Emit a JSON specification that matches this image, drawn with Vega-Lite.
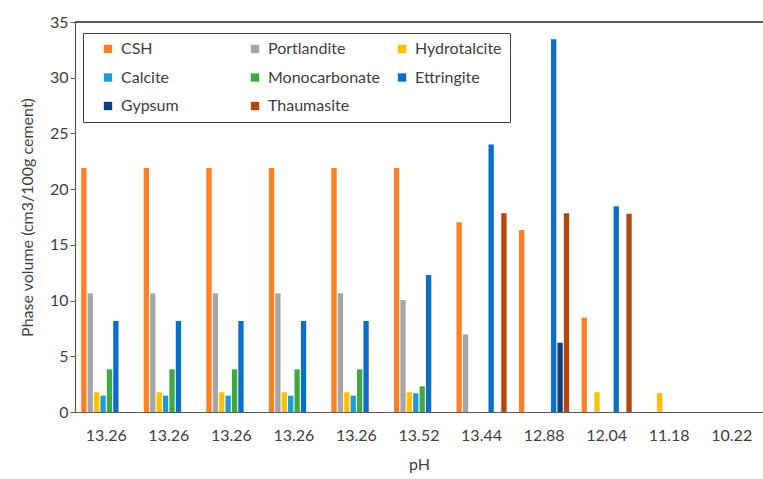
{
  "$schema": "https://vega.github.io/schema/vega-lite/v6.json",
  "width": 688,
  "height": 390,
  "autosize": "none",
  "padding": {"left": 75, "top": 22, "right": 0, "bottom": 67},
  "background": "white",
  "config": {
    "view": {"stroke": null},
    "font": "Lato",
    "axis": {"labelFont": "Lato", "titleFont": "Lato", "labelColor": "#404040", "titleColor": "#404040", "titleFontWeight": "normal", "domainColor": "#595959", "tickColor": "#595959", "grid": false}
  },
  "data": {
    "values": [
      {"s": 1, "phase": "CSH", "v": 21.9}, {"s": 1, "phase": "Portlandite", "v": 10.65}, {"s": 1, "phase": "Hydrotalcite", "v": 1.77}, {"s": 1, "phase": "Calcite", "v": 1.47}, {"s": 1, "phase": "Monocarbonate", "v": 3.83}, {"s": 1, "phase": "Ettringite", "v": 8.17},
      {"s": 2, "phase": "CSH", "v": 21.9}, {"s": 2, "phase": "Portlandite", "v": 10.65}, {"s": 2, "phase": "Hydrotalcite", "v": 1.77}, {"s": 2, "phase": "Calcite", "v": 1.47}, {"s": 2, "phase": "Monocarbonate", "v": 3.83}, {"s": 2, "phase": "Ettringite", "v": 8.17},
      {"s": 3, "phase": "CSH", "v": 21.9}, {"s": 3, "phase": "Portlandite", "v": 10.65}, {"s": 3, "phase": "Hydrotalcite", "v": 1.77}, {"s": 3, "phase": "Calcite", "v": 1.47}, {"s": 3, "phase": "Monocarbonate", "v": 3.83}, {"s": 3, "phase": "Ettringite", "v": 8.17},
      {"s": 4, "phase": "CSH", "v": 21.9}, {"s": 4, "phase": "Portlandite", "v": 10.65}, {"s": 4, "phase": "Hydrotalcite", "v": 1.77}, {"s": 4, "phase": "Calcite", "v": 1.47}, {"s": 4, "phase": "Monocarbonate", "v": 3.83}, {"s": 4, "phase": "Ettringite", "v": 8.17},
      {"s": 5, "phase": "CSH", "v": 21.9}, {"s": 5, "phase": "Portlandite", "v": 10.65}, {"s": 5, "phase": "Hydrotalcite", "v": 1.77}, {"s": 5, "phase": "Calcite", "v": 1.47}, {"s": 5, "phase": "Monocarbonate", "v": 3.83}, {"s": 5, "phase": "Ettringite", "v": 8.17},
      {"s": 6, "phase": "CSH", "v": 21.9}, {"s": 6, "phase": "Portlandite", "v": 10.05}, {"s": 6, "phase": "Hydrotalcite", "v": 1.77}, {"s": 6, "phase": "Calcite", "v": 1.68}, {"s": 6, "phase": "Monocarbonate", "v": 2.3}, {"s": 6, "phase": "Ettringite", "v": 12.3},
      {"s": 7, "phase": "CSH", "v": 17.03}, {"s": 7, "phase": "Portlandite", "v": 6.97}, {"s": 7, "phase": "Ettringite", "v": 24.0}, {"s": 7, "phase": "Thaumasite", "v": 17.84},
      {"s": 8, "phase": "CSH", "v": 16.34}, {"s": 8, "phase": "Ettringite", "v": 33.45}, {"s": 8, "phase": "Gypsum", "v": 6.22}, {"s": 8, "phase": "Thaumasite", "v": 17.84},
      {"s": 9, "phase": "CSH", "v": 8.47}, {"s": 9, "phase": "Hydrotalcite", "v": 1.77}, {"s": 9, "phase": "Ettringite", "v": 18.46}, {"s": 9, "phase": "Thaumasite", "v": 17.8},
      {"s": 10, "phase": "Hydrotalcite", "v": 1.7},
      {"s": 11, "phase": "CSH", "v": 0}
    ]
  },
  "layer": [
    {
      "mark": {"type": "bar"},
      "encoding": {
        "x": {
          "field": "s", "type": "ordinal",
          "scale": {"domain": [1,2,3,4,5,6,7,8,9,10,11], "paddingInner": 0, "paddingOuter": 0},
          "axis": {
            "title": "pH", "titleFontSize": 16, "titlePadding": 13,
            "labelExpr": "['13.26','13.26','13.26','13.26','13.26','13.52','13.44','12.88','12.04','11.18','10.22'][datum.value-1]",
            "labelFontSize": 16, "labelAngle": 0, "ticks": false, "labelPadding": 15, "domainWidth": 1.2
          }
        },
        "xOffset": {
          "field": "phase", "type": "nominal",
          "scale": {"domain": ["CSH","Portlandite","Hydrotalcite","Calcite","Monocarbonate","Ettringite","Gypsum","Thaumasite"], "paddingInner": 0.17, "paddingOuter": 0.97}
        },
        "y": {
          "field": "v", "type": "quantitative",
          "scale": {"domain": [0, 35], "nice": false},
          "axis": {
            "title": "Phase volume (cm3/100g cement)", "titleFontSize": 16, "titlePadding": 14,
            "values": [0,2.5,5,7.5,10,12.5,15,17.5,20,22.5,25,27.5,30,32.5,35],
            "labelExpr": "datum.value % 5 === 0 ? datum.label : ''",
            "labelFontSize": 16, "tickSize": 5, "labelPadding": 2, "domainWidth": 1.2
          }
        },
        "color": {
          "field": "phase", "type": "nominal",
          "scale": {
            "domain": ["CSH","Portlandite","Hydrotalcite","Calcite","Monocarbonate","Ettringite","Gypsum","Thaumasite"],
            "range": ["#FF7F27","#A6A6A6","#FFC000","#1E9BD7","#3FAA3F","#0A6ECB","#0B3D77","#B5450B"]
          },
          "legend": {
            "title": null, "orient": "none", "legendX": 8, "legendY": 11,
            "columns": 3, "direction": "horizontal", "gridAlign": "all",
            "symbolType": "square", "symbolSize": 70, "symbolStrokeWidth": 0, "symbolOffset": 9,
            "labelFontSize": 16, "labelFont": "Lato", "labelColor": "#404040", "labelOffset": 5,
            "columnPadding": 4, "rowPadding": 12.5, "padding": 8,
            "strokeColor": "#404040", "labelLimit": 200
          }
        }
      }
    },
    {
      "mark": {"type": "rule", "color": "#595959", "strokeWidth": 1.2},
      "encoding": {"y": {"datum": 35}}
    }
  ]
}
